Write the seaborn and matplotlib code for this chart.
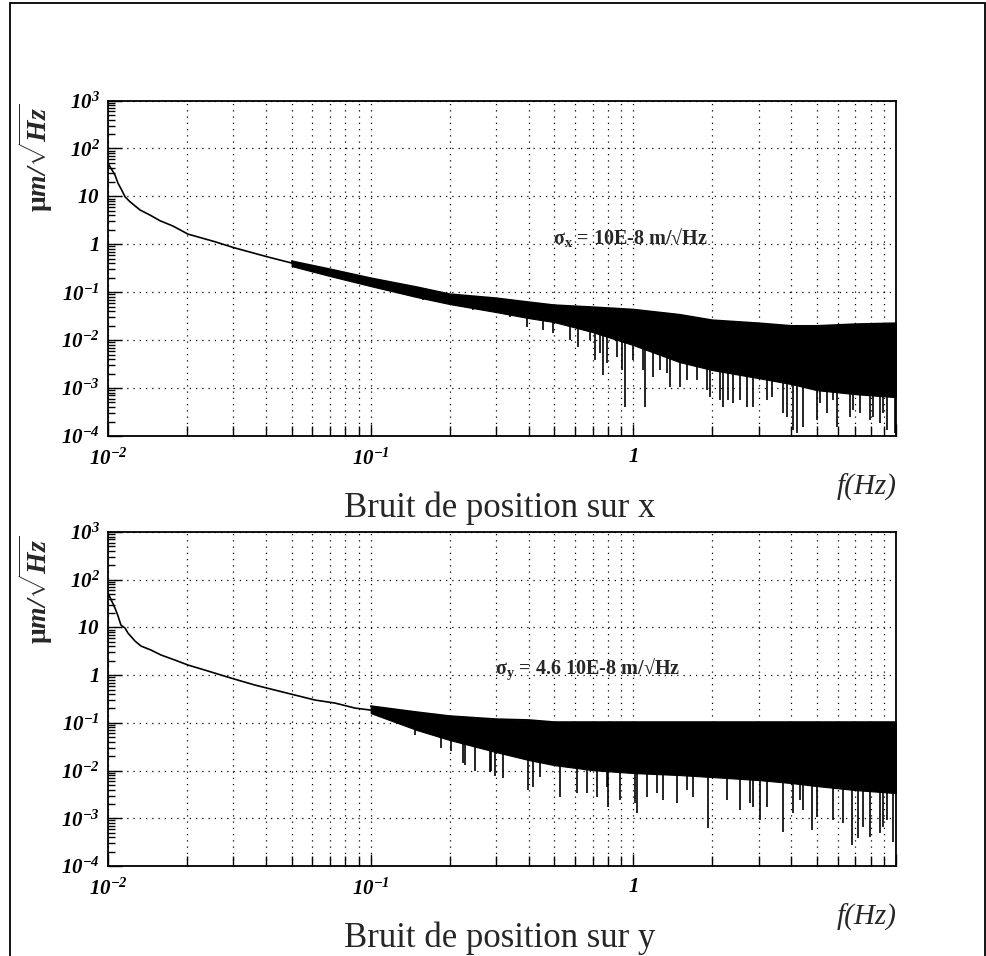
import numpy as np
import matplotlib.pyplot as plt
import matplotlib.ticker as mticker
from matplotlib.patches import Rectangle
import seaborn as sns

# ---- values ----
# panel x : thin low-frequency trace (Hz, um/sqrt(Hz))
x_trace_f = [0.0100, 0.01063, 0.01092, 0.01128, 0.01161, 0.01213, 0.01324, 0.01445,
             0.01578, 0.01768, 0.02016, 0.02555, 0.02991, 0.04029, 0.0506]
x_trace_v = [48.9, 27.9, 18.7, 13.5, 9.8, 7.7, 5.2, 4.07, 3.1, 2.4, 1.63, 1.13, 0.86, 0.55, 0.40]

# panel x : noise band (upper edge / dense lower edge)
x_band_f = [0.05, 0.07, 0.1, 0.15, 0.2, 0.3, 0.4, 0.5, 0.7, 1, 1.5, 2, 3, 4, 5, 7, 10]
x_band_hi = [0.446, 0.303, 0.197, 0.128, 0.0912, 0.0753, 0.0621, 0.0538, 0.0489, 0.0436,
             0.034, 0.0261, 0.0226, 0.0199, 0.0199, 0.0216, 0.0226]
x_band_lo = [0.351, 0.217, 0.134, 0.079, 0.0565, 0.0385, 0.0288, 0.0238, 0.0147, 0.00787,
             0.00348, 0.00237, 0.00161, 0.00121, 0.000904, 0.000746, 0.000646]

# panel x : downward spikes below the band
x_spike_f = [0.158, 0.245, 0.339, 0.394, 0.453, 0.494, 0.574, 0.615, 0.684, 0.747, 0.766,
             0.794, 0.867, 0.929, 0.996, 1.089, 1.107, 1.188, 1.343, 1.378, 1.504, 1.746,
             1.958, 2.138, 2.193, 2.393, 2.546, 2.705, 2.851, 3.228, 3.707, 4.053, 4.197,
             4.424, 5.0, 5.458, 5.957, 6.683, 7.295, 7.962, 8.69, 9.23, 9.91,
             0.7145, 0.9057, 1.262, 1.600, 1.905, 2.291, 3.373, 3.846, 5.129, 5.754,
             6.855, 8.166, 8.913]
x_spike_v = [0.0684, 0.0423, 0.0302, 0.0187, 0.0162, 0.0140, 0.0100, 0.00714, 0.0100,
             0.00536, 0.00186, 0.00331, 0.00442, 0.000399, 0.00382, 0.00237, 0.000399,
             0.00169, 0.00205, 0.00104, 0.00104, 0.00146, 0.000646, 0.000558, 0.000399,
             0.000484, 0.000558, 0.000399, 0.000399, 0.000558, 0.000299, 0.000132,
             0.000114, 0.000153, 0.000214, 0.000299, 0.000153, 0.000247, 0.000299,
             0.000214, 0.000185, 0.000132, 0.000114,
             0.00382, 0.00237, 0.00237, 0.00146, 0.000904, 0.000558, 0.000646, 0.000247,
             0.000484, 0.000558, 0.000346, 0.000247, 0.000299]

# panel y : thin low-frequency trace
y_trace_f = [0.0100, 0.01063, 0.01092, 0.01120, 0.01161, 0.01191, 0.01267, 0.01335, 0.01457,
             0.01592, 0.01798, 0.02016, 0.02402, 0.02937, 0.03624, 0.04315, 0.05145,
             0.06134, 0.07311, 0.08714, 0.1002]
y_trace_v = [52.6, 25.5, 17.3, 11.2, 9.71, 7.63, 5.19, 4.07, 3.36, 2.64, 2.07, 1.63, 1.22,
             0.869, 0.620, 0.487, 0.383, 0.301, 0.260, 0.204, 0.185]

# panel y : noise band
y_band_f = [0.1, 0.15, 0.2, 0.3, 0.4, 0.5, 0.7, 1, 1.5, 2, 3, 4, 5, 7, 10]
y_band_hi = [0.225, 0.168, 0.139, 0.120, 0.115, 0.104, 0.104, 0.104, 0.104, 0.104, 0.104,
             0.104, 0.104, 0.104, 0.104]
y_band_lo = [0.160, 0.0706, 0.0436, 0.0244, 0.0166, 0.0130, 0.0102, 0.00887, 0.00805,
             0.00731, 0.00632, 0.00547, 0.00473, 0.00390, 0.00337]

# panel y : downward spikes below the band
y_spike_f = [0.1476, 0.1854, 0.2023, 0.2286, 0.2495, 0.2871, 0.2972, 0.319, 0.397, 0.415,
             0.5256, 0.6656, 0.7266, 0.8002, 0.8892, 1.014, 1.127, 1.297, 1.466, 1.686,
             1.923, 2.27, 2.546, 2.851, 3.228, 3.707, 4.053, 4.424, 5.0, 5.754, 6.281,
             6.793, 7.482, 7.962, 8.913, 9.73,
             0.2244, 0.2844, 0.4406, 0.6100, 0.7943, 1.032, 1.230, 1.600, 2.779, 3.034,
             4.306, 4.786, 7.161, 8.69, 9.23]
y_spike_v = [0.0555, 0.0296, 0.0256, 0.0130, 0.00977, 0.00977, 0.00767, 0.00697, 0.0039,
             0.00451, 0.00278, 0.00337, 0.00278, 0.00172, 0.00241, 0.00208, 0.00278,
             0.00241, 0.00208, 0.00278, 0.000624, 0.00241, 0.00149, 0.00172, 0.00172,
             0.000514, 0.00129, 0.00149, 0.00106, 0.000916, 0.000793, 0.000274, 0.000654,
             0.000404, 0.000654, 0.000317,
             0.01436, 0.00931, 0.00731, 0.00337, 0.00451, 0.00129, 0.00337, 0.0039,
             0.00208, 0.000916, 0.00241, 0.000566, 0.000385, 0.00049, 0.000916]

x_ticklabels = {0.01: "10^{-2}", 0.1: "10^{-1}", 1: "1"}
y_ticklabels = {1e3: "10^{3}", 1e2: "10^{2}", 10: "10", 1: "1", 0.1: "10^{-1}",
                0.01: "10^{-2}", 1e-3: "10^{-3}", 1e-4: "10^{-4}"}

W, H = 987, 956

sns.set_theme(style="white")
plt.rcParams["font.family"] = ["Liberation Serif", "DejaVu Serif"]
plt.rcParams["mathtext.fontset"] = "custom"
plt.rcParams["mathtext.rm"] = "Liberation Serif:bold"
plt.rcParams["mathtext.it"] = "Liberation Serif:italic:bold"
plt.rcParams["mathtext.bf"] = "Liberation Serif:italic:bold"


def fmt(table):
    def f(v, pos):
        for k, s in table.items():
            if np.isclose(v, k, rtol=1e-6):
                return r"$\mathbf{" + s + "}$"
        return ""
    return f


def draw_panel(ax, tf, tv, bf, bhi, blo, sf, sv):
    sns.lineplot(x=tf, y=tv, ax=ax, color="black", lw=1.2, estimator=None, sort=False)
    ax.fill_between(bf, blo, bhi, facecolor="black", edgecolor="black", lw=0.8, alpha=1)
    sns.lineplot(x=bf, y=bhi, ax=ax, color="black", lw=1.2, estimator=None, sort=False)
    # downward spikes hang from the dense part of the band
    top = 10 ** np.interp(np.log10(sf), np.log10(bf), np.log10(blo))
    ax.vlines(sf, sv, top, color="black", lw=1.2)

    ax.set_xscale("log")
    ax.set_yscale("log")
    ax.set_xlim(0.01, 10)
    ax.set_ylim(1e-4, 1e3)
    ax.set_xlabel("")
    ax.set_ylabel("")

    ax.xaxis.set_major_locator(mticker.LogLocator(base=10, numticks=20))
    ax.xaxis.set_minor_locator(mticker.LogLocator(base=10, subs=np.arange(2, 10), numticks=100))
    ax.yaxis.set_major_locator(mticker.LogLocator(base=10, numticks=20))
    ax.yaxis.set_minor_locator(mticker.LogLocator(base=10, subs=np.arange(2, 10), numticks=100))
    ax.xaxis.set_major_formatter(mticker.FuncFormatter(fmt(x_ticklabels)))
    ax.yaxis.set_major_formatter(mticker.FuncFormatter(fmt(y_ticklabels)))
    ax.xaxis.set_minor_formatter(mticker.NullFormatter())
    ax.yaxis.set_minor_formatter(mticker.NullFormatter())

    ax.tick_params(axis="both", which="both", direction="in", colors="black",
                   bottom=True, left=True, top=False, right=False, width=1.0, labelsize=15)
    ax.tick_params(axis="x", which="major", length=9, pad=9)
    ax.tick_params(axis="x", which="minor", length=7)
    ax.tick_params(axis="y", which="major", length=10, pad=6)
    ax.tick_params(axis="y", which="minor", length=5)

    ax.grid(False)
    ax.grid(True, which="major", axis="y", color="black", lw=0.9, ls=(0, (1, 4)))
    ax.grid(True, which="both", axis="x", color="black", lw=0.9, ls=(0, (1, 4)))
    ax.set_axisbelow(False)
    for sp in ax.spines.values():
        sp.set_color("black")
        sp.set_linewidth(1.3)


def fx(x):
    return x / W


def fy(y):
    return 1 - y / H


fig = plt.figure(figsize=(W / 100, H / 100), dpi=100)

ax_top = fig.add_axes([fx(108), fy(436), fx(896) - fx(108), fy(100.5) - fy(436)])
ax_bot = fig.add_axes([fx(108), fy(866), fx(896) - fx(108), fy(532) - fy(866)])

draw_panel(ax_top, x_trace_f, x_trace_v, x_band_f, x_band_hi, x_band_lo, x_spike_f, x_spike_v)
draw_panel(ax_bot, y_trace_f, y_trace_v, y_band_f, y_band_hi, y_band_lo, y_spike_f, y_spike_v)

ylab = r"$\mathrm{μ}\mathbf{m/}\sqrt{\mathbf{Hz}}$"
for top, bottom, title, sig, sx, sy in [
        (100.5, 436, "Bruit de position sur x", r"$\mathrm{σ}_{\mathrm{x}}$ = 10E-8 m/√Hz", 553, 244),
        (532, 866, "Bruit de position sur y", r"$\mathrm{σ}_{\mathrm{y}}$ = 4.6 10E-8 m/√Hz", 495, 674)]:
    fig.text(fx(36), fy(top + 3), ylab, rotation=90, ha="center", va="top", fontsize=20)
    fig.text(fx(897), fy(bottom + 51), "f(Hz)", ha="right", va="center", fontsize=21,
             style="italic")
    fig.text(fx(500), fy(bottom + 81), title, ha="center", va="baseline", fontsize=25)
    fig.text(fx(sx), fy(sy), sig, ha="left", va="baseline", fontsize=14.5, fontweight="bold")

fig.patches.append(Rectangle((fx(10), -0.02), fx(985) - fx(10), 1.02 - 3 / H,
                             transform=fig.transFigure, fill=False, lw=1.3, ec="black"))

fig.savefig("out.png", dpi=100, facecolor="white")
